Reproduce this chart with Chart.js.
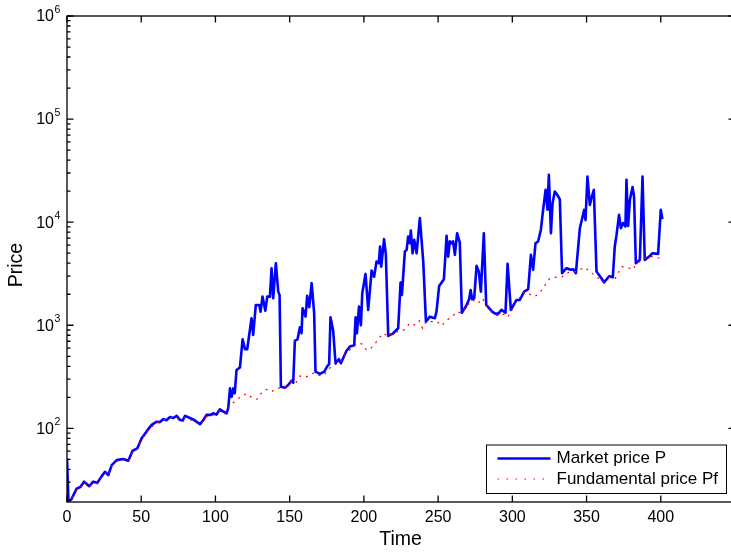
<!DOCTYPE html>
<html>
<head>
<meta charset="utf-8">
<title>Price</title>
<script src="https://cdn.jsdelivr.net/npm/chart.js@4.4.0/dist/chart.umd.min.js"></script>
<style>
    html, body { margin: 0; padding: 0; background: #fff; overflow: hidden; }
    #priceChart { display: block; }
</style>
</head>
<body>
<canvas id="priceChart" width="744" height="554"></canvas>
<script>
'use strict'

// market price P
const marketTime = [0, 1, 3, 6.5, 9, 11.5, 15, 17.7, 20.4, 23.4, 25.6, 27.8, 30.1, 33.5, 37.9, 41.3, 44.2, 47.4, 50.3, 54,
    57, 60.4, 62.6, 64.9, 67, 69.4, 71.6, 73.9, 76, 77.9, 79.5, 81.7, 85, 89.6, 91.8, 94, 96.8, 98.5, 100.7, 103,
    104.8, 107.5, 108.6, 109.8, 110.9, 112, 113, 114.2,
    116.5, 118.3, 119.9, 121.4, 124.3, 125.4, 127.2, 129.5, 130.4, 131.7, 133.6, 134.9, 136.7, 137.8, 138.9, 140.7, 142.3, 143.2, 144.1, 146.8,
    149, 151.3, 152.4, 153.5, 155.3, 156.9, 158, 158.7, 160.7, 161.8, 163.2, 164.8, 166.5, 167.4, 170.4, 173.3, 175.5, 176.6, 177.5, 179.3,
    180.9, 183.2, 184.5, 188.3, 190.6, 193.5, 194.4, 195.3, 196.7, 198, 198.9, 201.1, 202.9, 205.2, 206.9, 208.5, 210, 210.9, 211.7, 213.6,
    214.8, 216.4, 219.7, 223.1, 224.7, 225.6, 227.6, 228.8, 229.8, 231, 231.6, 232.8, 233.9, 235.5, 237.7, 240, 241.8, 244.4, 247.8, 248.9,
    250.7, 253.9, 255.7, 256.8, 257.9, 259, 260.1, 261.3, 262.8, 264.6, 266, 268.7, 270.9, 271.9, 272.9, 274.3, 275.9, 277.4, 278.8, 280.8,
    282.4, 286.4, 288.2, 290.4, 292.7, 295.4, 296.8, 299, 302.8, 305, 308, 310.7, 312.5, 314, 315.6, 317.4, 319.2, 320.8, 322.4, 323.7,
    324.6, 326, 327.1, 328.6, 330.4, 332, 333.5, 336.5, 339.4, 341, 342.8, 345.5, 346.6, 348.4, 349.3, 350.6, 352.2, 353.3, 354.9, 356.7,
    360, 361.8, 365.2, 367.7, 369, 370.1, 371.9, 373.1, 374.6, 376.2, 376.9, 378, 379.2, 381, 382, 383.2, 385.9, 387.7, 389.2, 392.6,
    394.4, 398.2, 400, 401.1]
const marketPrice = [51, 19.5, 20.5, 26, 27, 30.4, 27.5, 30.4, 29.6, 34.4, 37.9, 35.2, 44, 49.2, 50.4, 48.5, 60.6, 64, 80, 95,
    108, 116, 115, 123, 120, 129, 126, 132, 121, 119, 132, 128, 122, 110, 120, 135, 135, 140, 136, 153,
    147, 140, 156, 244, 202, 244, 219, 368,
    390, 731, 585, 585, 1170, 805, 1575, 1575, 1355, 1897, 1382, 1897, 1897, 3573, 1827, 4000, 2120, 1970, 253, 248,
    263, 290, 277, 709, 731, 957, 836, 1462, 1213, 1930, 1498, 2560, 1310, 355, 337, 355, 403, 419, 1197, 887,
    428, 469, 428, 566, 621, 641, 1197, 836, 1518, 1000, 2047, 3148, 1409, 3390, 2955, 4140, 3990, 5800, 3700, 6840,
    4820, 787, 836, 935, 2594, 1968, 5190, 5390, 7250, 6250, 8280, 4990, 6740, 4990, 10940, 4140, 1083, 1212, 1170, 1357,
    2410, 2800, 7360, 4630, 6520, 6250, 6520, 4820, 7820, 6340, 1325, 1518, 1786, 2200, 1786, 1827, 3770, 3330, 2120, 7820,
    1575, 1355, 1304, 1290, 1409, 1325, 3940, 1409, 1760, 1760, 2120, 2240, 4820, 3450, 6250, 6520, 8410, 13370, 20600, 13200,
    28750, 7820, 15280, 19800, 18300, 16600, 3200, 3580, 3450, 3500, 3200, 8750, 10200, 13150, 10450, 27700, 14700, 17100, 20600, 3320,
    2860, 2610, 2990, 2920, 5800, 7360, 11780, 8750, 9820, 9080, 25760, 9200, 16500, 21900, 17660, 4000, 4310, 27700, 4310, 4700,
    5000, 4930, 13150, 10700]

// fundamental price Pf
const fundamentalTime = [0, 1.5, 3, 6.5, 9, 11.5, 15, 17.7, 20.4, 23.4, 25.6, 27.8, 30.1, 33.5, 37.9, 41.3, 44.2, 47.4, 50.3, 54,
    58.6, 62.6, 66.7, 71.6, 75.6, 79.5, 82.8, 86, 89.6, 94, 98.5, 103, 106.4, 109.8, 115.4, 121, 124, 128, 131, 134.5,
    137.8, 141.2, 146.8, 151.3, 154, 156.9, 160.3, 162.5, 166.5, 171, 173.7, 178.2, 184, 187.2, 192.8, 196.2, 198.9, 201.8, 204, 207.4,
    210, 213.4, 216.4, 220.9, 224.7, 227.6, 230.5, 233.2, 237.2, 239.5, 241.8, 246.7, 249.4, 252.3, 255.6, 259.7, 262.8, 266, 268.7, 273.6,
    277, 279.9, 282.6, 286.4, 290.4, 295.4, 297.2, 302.8, 308.4, 314.7, 317.8, 321.4, 325.3, 329.1, 333.6, 338.8, 343.2, 348.8, 352.2, 355.1,
    361.2, 365.2, 369, 371.3, 373.5, 378, 381, 383.6, 387.7, 391.4, 395.2, 399.3]
const fundamentalPrice = [19.4, 19.5, 20.5, 25, 26.5, 29.5, 27, 29.5, 29, 33.5, 37, 34.5, 43, 48, 49.5, 47.5, 59, 63, 78, 93,
    108, 117, 123, 128, 122, 128, 122, 116, 108, 130, 134, 148, 138, 167, 195, 218, 202, 191, 221, 239,
    227, 244, 250, 285, 273, 322, 313, 322, 346, 322, 337, 403, 433, 516, 621, 670, 657, 575, 585, 657,
    749, 836, 777, 868, 868, 914, 1030, 989, 1110, 935, 1083, 1083, 1083, 989, 1110, 1230, 1355, 1304, 1518, 1760,
    1630, 1827, 1535, 1330, 1230, 1290, 1212, 1690, 2120, 1897, 2010, 2370, 2860, 2920, 2955, 3320, 3320, 3650, 3320, 3080,
    2640, 2920, 2800, 3200, 3700, 3630, 3450, 3940, 4310, 4630, 4630, 4460]

const xTicks = [0, 50, 100, 150, 200, 250, 300, 350, 400]
const yTickExponents = [2, 3, 4, 5, 6]
const xMax = 450
const yMin = 19.3
const yMax = 1e6

const seriesLabels = ['Market price P', 'Fundamental price Pf']
const fontFamily = '"Liberation Sans", Arial, Helvetica, sans-serif'

function toPoints(xs, ys) {
    return xs.map(function (x, i) { return { x: x, y: ys[i] } })
}

// box, inward ticks, labels and legend in the old plotting style
const axesBox = {
    id: 'axesBox',
    afterDraw: function (chart) {
        const ctx = chart.ctx
        const area = chart.chartArea
        const xs = chart.scales.x
        const ys = chart.scales.y
        const major = 6.5
        const minor = 3.5

        ctx.save()
        ctx.strokeStyle = '#000'
        ctx.fillStyle = '#000'
        ctx.lineWidth = 1.3
        ctx.strokeRect(area.left, area.top, area.right - area.left, area.bottom - area.top)

        ctx.beginPath()
        xTicks.forEach(function (t) {
            const px = xs.getPixelForValue(t)
            ctx.moveTo(px, area.bottom)
            ctx.lineTo(px, area.bottom - major)
            ctx.moveTo(px, area.top)
            ctx.lineTo(px, area.top + major)
        })
        for (let k = 1; k <= 6; k++) {
            for (let m = 1; m <= 9; m++) {
                const v = m * Math.pow(10, k)
                if (v < yMin || v > yMax) continue
                const py = ys.getPixelForValue(v)
                const len = m === 1 ? major : minor
                ctx.moveTo(area.left, py)
                ctx.lineTo(area.left + len, py)
                ctx.moveTo(area.right, py)
                ctx.lineTo(area.right - len, py)
            }
        }
        ctx.stroke()

        ctx.font = '16px ' + fontFamily
        ctx.textAlign = 'center'
        ctx.textBaseline = 'middle'
        xTicks.forEach(function (t) {
            ctx.fillText(String(t), xs.getPixelForValue(t), area.bottom + 15.5)
        })

        yTickExponents.forEach(function (k) {
            const py = ys.getPixelForValue(Math.pow(10, k))
            ctx.font = '16px ' + fontFamily
            ctx.textAlign = 'right'
            ctx.textBaseline = 'middle'
            ctx.fillText('10', area.left - 13, py + 1)
            ctx.font = '10.5px ' + fontFamily
            ctx.textAlign = 'left'
            ctx.textBaseline = 'alphabetic'
            ctx.fillText(String(k), area.left - 12.5, py - 3.5)
        })

        ctx.font = '19.5px ' + fontFamily
        ctx.textAlign = 'center'
        ctx.textBaseline = 'middle'
        ctx.fillText('Time', 400.5, 539.5)
        ctx.save()
        ctx.translate(17, (area.top + area.bottom) / 2 + 6)
        ctx.rotate(-Math.PI / 2)
        ctx.fillText('Price', 0, 0)
        ctx.restore()

        // legend
        const lx = 486.5, ly = 445, lw = 240, lh = 48.5
        ctx.fillStyle = '#fff'
        ctx.fillRect(lx, ly, lw, lh)
        ctx.lineWidth = 1
        ctx.strokeStyle = '#000'
        ctx.strokeRect(lx, ly, lw, lh)

        ctx.lineWidth = 2.5
        ctx.strokeStyle = '#0000ff'
        ctx.beginPath()
        ctx.moveTo(lx + 11, ly + 13.5)
        ctx.lineTo(lx + 64, ly + 13.5)
        ctx.stroke()

        ctx.lineWidth = 1.2
        ctx.strokeStyle = '#ff0000'
        ctx.setLineDash([1.5, 7.5])
        ctx.beginPath()
        ctx.moveTo(lx + 11, ly + 34)
        ctx.lineTo(lx + 64, ly + 34)
        ctx.stroke()
        ctx.setLineDash([])

        ctx.fillStyle = '#000'
        ctx.font = '17px ' + fontFamily
        ctx.textAlign = 'left'
        ctx.textBaseline = 'middle'
        ctx.fillText(seriesLabels[0], lx + 70, ly + 13.5)
        ctx.fillText(seriesLabels[1], lx + 70, ly + 34)
        ctx.restore()
    }
}

const priceChart = new Chart(document.getElementById('priceChart'), {
    type: 'line',
    data: {
        datasets: [
            {
                label: seriesLabels[1],
                data: toPoints(fundamentalTime, fundamentalPrice),
                borderColor: '#ff0000',
                borderWidth: 1.2,
                borderDash: [2, 5],
                pointRadius: 0,
                tension: 0,
                order: 0
            },
            {
                label: seriesLabels[0],
                data: toPoints(marketTime, marketPrice),
                borderColor: '#0000ff',
                borderWidth: 2.6,
                borderJoinStyle: 'round',
                pointRadius: 0,
                tension: 0,
                order: 1
            }
        ]
    },
    options: {
        responsive: false,
        animation: false,
        devicePixelRatio: 1,
        layout: {
            padding: { left: 67, right: 9, top: 16, bottom: 52 }
        },
        scales: {
            x: { type: 'linear', min: 0, max: xMax, display: false },
            y: { type: 'logarithmic', min: yMin, max: yMax, display: false }
        },
        plugins: {
            legend: { display: false },
            tooltip: { enabled: false }
        }
    },
    plugins: [axesBox]
});
</script>
</body>
</html>
